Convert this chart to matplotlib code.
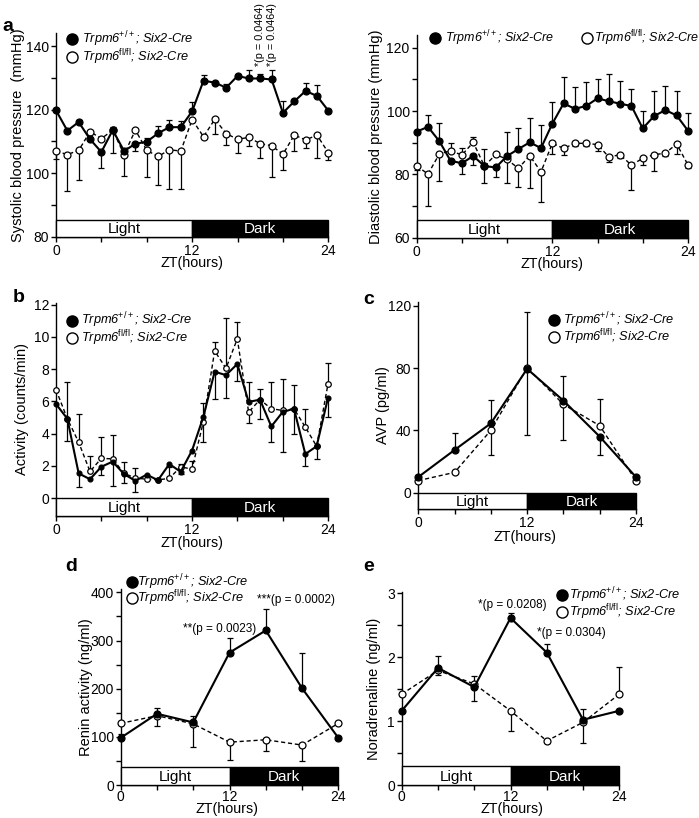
import matplotlib
matplotlib.use("Agg")
import matplotlib.pyplot as plt
from matplotlib.patches import Rectangle
from matplotlib.ticker import MultipleLocator, FixedLocator

plt.rcParams['font.family'] = ['Liberation Sans', 'DejaVu Sans']
plt.rcParams['mathtext.fontset'] = 'custom'
plt.rcParams['mathtext.rm'] = 'Liberation Sans'
plt.rcParams['mathtext.it'] = 'Liberation Sans:italic'
plt.rcParams['mathtext.bf'] = 'Liberation Sans:bold'

# --- data (signed errors: + drawn up, - drawn down, 0 = no bar) ---
hours = list(range(25))
hours4 = [0, 4, 8, 12, 16, 20, 24]

sbp_wt = [119.8, 113.4, 116.1, 110.7, 106.7, 113.6, 107.0, 109.3, 109.9, 112.6, 114.5, 114.5,
          119.5, 129.1, 128.5, 126.9, 130.6, 129.8, 129.8, 129.5, 119.0, 122.6, 125.9, 124.3, 119.7]
sbp_wt_err = [0, 0, 0.7, 0, -5.1, 0.8, 0, -2.4, 1.3, 2.4, 2.1, 1.9,
              2.8, 1.7, 0, 1.1, 0, 2.7, 1.3, 3.0, 3.6, 0, 2.6, 3.3, 0]
sbp_ko = [107.0, 105.9, 107.2, 113.1, 110.9, 113.6, 105.9, 113.6, 107.2, 105.3, 107.4, 107.0,
          116.9, 111.5, 117.0, 112.5, 110.7, 111.3, 109.3, 108.7, 106.0, 112.0, 110.5, 112.0, 106.5]
sbp_ko_err = [-2.6, -11.5, -9.3, 0, 0, -7.2, -6.6, 0, -8.2, -9.0, -12.4, -11.8,
              0, 0, -4.5, -3.5, -4.4, -2.7, -4.6, -9.7, -4.8, -5.1, -2.5, -7.3, -2.2]

dbp_wt = [93.5, 95.0, 90.5, 84.3, 83.5, 85.8, 82.6, 82.2, 85.8, 88.0, 90.1, 88.3,
          96.0, 102.4, 100.7, 101.6, 104.0, 103.1, 102.3, 101.6, 94.5, 98.4, 100.3, 98.6, 93.8]
dbp_wt_err = [0, 3.9, 5.6, 0, -3.4, -2.9, 5.3, -2.9, 7.5, 6.5, 7.7, 7.3,
              6.8, 8.3, 6.9, 7.6, 6.2, 8.6, 7.1, 5.4, 5.5, 7.9, 7.5, 7.7, 5.5]
dbp_ko = [82.7, 80.1, 86.4, 87.5, 86.1, 90.1, 82.6, 86.3, 84.7, 81.9, 85.9, 80.8,
          89.8, 88.2, 89.8, 89.8, 89.4, 85.5, 86.2, 82.9, 85.1, 86.2, 86.7, 89.6, 83.0]
dbp_ko_err = [-1.2, -10.0, -8.4, 2.5, 2.3, 1.6, -5.3, 0, -7.4, -6.0, -10.3, -9.5,
              -3.3, -2.2, -0.8, -1.0, -2.0, -1.6, -1.0, -7.9, -2.3, -5.0, -1.0, -3.1, -1.0]

act_wt = [5.84, 4.93, 1.54, 1.18, 1.95, 2.27, 1.50, 1.08, 1.46, 1.12, 2.12, 1.64,
          2.95, 5.03, 7.84, 7.63, 8.32, 5.97, 6.11, 4.45, 5.34, 5.55, 2.74, 3.22, 6.22]
act_wt_err = [0, -1.4, -0.84, 0, -0.5, -1.5, -0.56, -0.68, 0, 0, 0, -0.15,
              0, 0.9, -1.66, -1.39, -1.05, 1.25, -1.18, -0.98, -2.49, -1.56, -0.77, -0.79, -1.19]
act_ko = [6.73, 4.93, 3.47, 1.66, 2.47, 2.44, 1.55, 1.25, 1.18, 1.14, 1.23, 1.95,
          1.80, 4.72, 9.13, 8.05, 9.88, 5.34, 6.11, 5.55, 5.44, 5.55, 4.41, 3.22, 7.07]
act_ko_err = [0, 2.3, 1.77, 0.98, 1.31, 1.49, 0.68, 0.6, 0, 0, 0.7, 0.15,
              0.5, -1.25, 0.54, 3.15, 1.02, -0.68, 0.69, 1.67, 1.98, 1.45, 1.14, 0, 1.29]

avp_wt = [10, 27.4, 44.5, 79.5, 59.1, 36, 10]
avp_wt_err = [0, 11.1, 15, 36.5, 16, -12, 0]
avp_ko = [7.7, 13, 40, 80.3, 56.7, 43, 7.7]
avp_ko_err = [0, 0, -16, -43, -23, 17, 0]

renin_wt = [98, 148, 130, 275, 321, 201, 98]
renin_wt_err = [7, 12, 14, 30, 44, 73, 0]
renin_ko = [128, 144, 127, 89, 94, 83, 128]
renin_ko_err = [0, -22, -49, -36, -23, -34, 0]

na_wt = [1.16, 1.83, 1.53, 2.61, 2.07, 1.02, 1.16]
na_wt_err = [0, 0.19, -0.22, 0.08, 0.14, 0.17, 0]
na_ko = [1.42, 1.79, 1.58, 1.16, 0.69, 0.98, 1.42]
na_ko_err = [0, -0.07, 0.12, -0.31, -0.04, -0.32, 0.43]

lbl_wt = r"Trpm6$^{+/+}$; Six2-Cre"
lbl_ko = r"Trpm6$^{\mathrm{fl/fl}}$; Six2-Cre"

fig = plt.figure(figsize=(6.99, 8.18), dpi=100)


def draw_series(ax, x, y, err, filled, ms):
    xs = [x[i] for i in range(len(err)) if err[i] != 0]
    ys = [y[i] for i in range(len(err)) if err[i] != 0]
    tips = [y[i] + err[i] for i in range(len(err)) if err[i] != 0]
    ax.vlines(xs, ys, tips, color='black', lw=0.9, zorder=2, clip_on=False)
    ax.plot(xs, tips, ls='none', marker='_', ms=4.5, mew=0.9, color='black', zorder=2, clip_on=False)
    ax.plot(x, y, color='black', lw=1.5 if filled else 1.0,
            ls='-' if filled else (0, (3, 2)), marker='o', ms=ms,
            mfc='black' if filled else 'white', mec='black', mew=0.9,
            clip_on=False, zorder=4 if filled else 3)


def setup(ax, ylim, bar_top, major, minor, ylab, ylab_x, xlab_y, xlab_x=0.5, xpad=1.5):
    ax.set_xlim(0, 24)
    ax.set_ylim(*ylim)
    ax.spines['top'].set_visible(False)
    ax.spines['right'].set_visible(False)
    for s in ('left', 'bottom'):
        ax.spines[s].set_linewidth(1.0)
    ax.xaxis.set_major_locator(FixedLocator([0, 12, 24]))
    ax.xaxis.set_minor_locator(FixedLocator([4, 8, 16, 20]))
    ax.yaxis.set_major_locator(MultipleLocator(major))
    if minor:
        ax.yaxis.set_minor_locator(MultipleLocator(minor))
    ax.tick_params(which='both', direction='out', length=3.5, width=1.0, labelsize=10, pad=1.5)
    ax.tick_params(axis='x', pad=xpad)
    lo = ylim[0]
    h = bar_top - lo
    ax.add_patch(Rectangle((0, lo), 12, h, fc='white', ec='black', lw=1.0, zorder=5, clip_on=False))
    ax.add_patch(Rectangle((12, lo), 12, h, fc='black', ec='black', lw=1.0, zorder=5, clip_on=False))
    ax.text(6, lo + h * 0.45, "Light", ha='center', va='center', fontsize=11, zorder=6)
    ax.text(18, lo + h * 0.45, "Dark", ha='center', va='center', fontsize=11, color='white', zorder=6)
    ax.set_ylabel(ylab, fontsize=10.5)
    ax.yaxis.set_label_coords(ylab_x, 0.5)
    ax.set_xlabel("ZT(hours)", fontsize=10.3)
    ax.xaxis.set_label_coords(xlab_x, xlab_y)


def legend_item(ax, x, y, filled, label, dx, ms=8, fs=9.2):
    ax.plot([x], [y], marker='o', ms=ms, mfc='black' if filled else 'white', mec='black',
            mew=1.0, ls='none', transform=ax.transAxes, clip_on=False)
    ax.text(x + dx, y, label, transform=ax.transAxes, va='center', ha='left',
            fontsize=fs, style='italic')


# ---- panel a (systolic) ----
ax = fig.add_axes([0.0801, 0.7103, 0.3896, 0.2490])
setup(ax, (80, 144), 85.3, 20, 10, "Systolic blood pressure  (mmHg)", -0.114, -0.094)
draw_series(ax, hours, sbp_ko, sbp_ko_err, False, 5)
draw_series(ax, hours, sbp_wt, sbp_wt_err, True, 5)
legend_item(ax, 0.059, 0.971, True, lbl_wt, 0.036)
legend_item(ax, 0.059, 0.884, False, lbl_ko, 0.036)
for zt in (18, 19):
    ax.text(zt, 133.8, "*(p = 0.0464)", rotation=90, ha='center', va='bottom', fontsize=7.8, clip_on=False)
fig.text(0.004, 0.968, "a", fontsize=14, fontweight='bold', va='center')

# ---- panel a (diastolic) ----
ax = fig.add_axes([0.5961, 0.7094, 0.3881, 0.2478])
setup(ax, (60, 124), 65.5, 20, 10, "Diastolic blood pressure (mmHg)", -0.123, -0.094)
draw_series(ax, hours, dbp_ko, dbp_ko_err, False, 5)
draw_series(ax, hours, dbp_wt, dbp_wt_err, True, 5)
legend_item(ax, 0.0675, 0.985, True, lbl_wt, 0.038, fs=9)
legend_item(ax, 0.628, 0.985, False, lbl_ko, 0.026, fs=9)

# ---- panel b (activity) ----
ax = fig.add_axes([0.0801, 0.3692, 0.3891, 0.2604])
setup(ax, (-1.1, 12.1), 0, 2, None, "Activity (counts/min)", -0.098, -0.092)
draw_series(ax, hours, act_ko, act_ko_err, False, 4)
draw_series(ax, hours, act_wt, act_wt_err, True, 3.5)
legend_item(ax, 0.058, 0.917, True, lbl_wt, 0.033)
legend_item(ax, 0.058, 0.834, False, lbl_ko, 0.033)
fig.text(0.018, 0.636, "b", fontsize=14, fontweight='bold', va='center')

# ---- panel c (AVP) ----
ax = fig.add_axes([0.5984, 0.3778, 0.3114, 0.2531])
setup(ax, (-10.5, 122.5), 0, 40, None, "AVP (pg/ml)", -0.13, -0.102, 0.49)
draw_series(ax, hours4, avp_ko, avp_ko_err, False, 5)
draw_series(ax, hours4, avp_wt, avp_wt_err, True, 5)
legend_item(ax, 0.623, 0.913, True, lbl_wt, 0.043)
legend_item(ax, 0.623, 0.831, False, lbl_ko, 0.043)
fig.text(0.519, 0.634, "c", fontsize=14, fontweight='bold', va='center')

# ---- panel d (renin) ----
ax = fig.add_axes([0.1727, 0.0403, 0.3113, 0.2396])
setup(ax, (0, 407), 38, 100, 50, "Renin activity (ng/ml)", -0.129, -0.088, 0.49, xpad=0.3)
draw_series(ax, hours4, renin_ko, renin_ko_err, False, 5)
draw_series(ax, hours4, renin_wt, renin_wt_err, True, 5)
legend_item(ax, 0.052, 1.036, True, lbl_wt, 0.024)
legend_item(ax, 0.052, 0.954, False, lbl_ko, 0.024)
ax.text(6.9, 324, "**(p = 0.0023)", fontsize=8.5, va='center', clip_on=False)
ax.text(15.0, 385, "***(p = 0.0002)", fontsize=8.5, va='center', clip_on=False)
fig.text(0.093, 0.308, "d", fontsize=14, fontweight='bold', va='center')

# ---- panel e (noradrenaline) ----
ax = fig.add_axes([0.5747, 0.0403, 0.3113, 0.2363])
setup(ax, (0, 3.02), 0.29, 1, 0.5, "Noradrenaline (ng/ml)", -0.095, -0.089, 0.505, xpad=0.3)
draw_series(ax, hours4, na_ko, na_ko_err, False, 5)
draw_series(ax, hours4, na_wt, na_wt_err, True, 5)
legend_item(ax, 0.737, 0.983, True, lbl_wt, 0.03)
legend_item(ax, 0.737, 0.895, False, lbl_ko, 0.03)
ax.text(8.4, 2.82, "*(p = 0.0208)", fontsize=8.5, va='center', clip_on=False)
ax.text(14.9, 2.38, "*(p = 0.0304)", fontsize=8.5, va='center', clip_on=False)
fig.text(0.519, 0.307, "e", fontsize=14, fontweight='bold', va='center')

fig.savefig("out.png", dpi=100)
